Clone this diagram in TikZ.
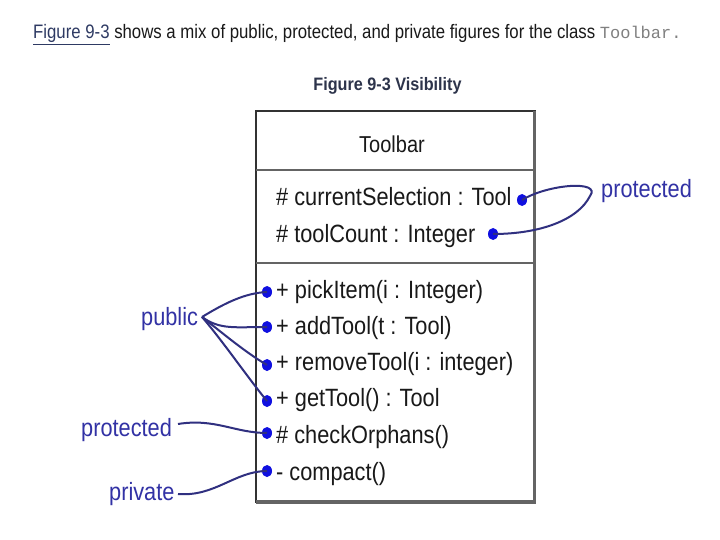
\documentclass[tikz,border=0pt]{standalone}
\usepackage{fontspec}
\setmainfont{Liberation Sans}[FakeStretch=0.87]
\newfontfamily\hdrfont{Liberation Sans}[FakeStretch=0.86]
\newfontfamily\capfont{Liberation Sans}[FakeStretch=0.9]
\setmonofont{Liberation Mono}
\usetikzlibrary{shapes.geometric}
\definecolor{linkcol}{RGB}{46,58,99}
\definecolor{monogray}{RGB}{128,128,128}
\definecolor{capcol}{RGB}{45,52,75}
\definecolor{lblblue}{RGB}{50,50,165}
\definecolor{dotblue}{RGB}{16,16,224}
\definecolor{connblue}{RGB}{48,48,128}
\definecolor{boxline}{RGB}{50,50,50}
\definecolor{boxshade}{RGB}{100,100,100}
\tikzset{
  hdr/.style={anchor=base west, inner sep=0pt, font=\hdrfont\fontsize{19.5}{19.5}\selectfont, text=black!90},
  member/.style={anchor=base west, inner sep=0pt, font=\fontsize{25}{25}\selectfont, text=black!90},
  lbl/.style={anchor=base west, inner sep=0pt, text=lblblue, font=\fontsize{25}{25}\selectfont},
  vdot/.style={ellipse, fill=dotblue, inner sep=0pt, minimum width=10pt, minimum height=12pt},
  conn/.style={draw=connblue, line width=2pt},
  boxln/.style={draw=boxline, line width=1.2pt},
  sepln/.style={draw=boxshade, line width=2.2pt},
  shadeln/.style={draw=boxshade, line width=3pt}
}
\begin{document}
\begin{tikzpicture}[x=1pt,y=-1pt]
\useasboundingbox (0,0) rectangle (720,540);
\fill[white] (0,0) rectangle (720,540);
% header
\node[hdr] (hdr) at (33,39) {\textcolor{linkcol}{\underline{Figure 9-3}} shows a mix of public, protected, and private figures for the class {\ttfamily\fontsize{17}{17}\selectfont\color{monogray}Toolbar.}};
\node[anchor=base, inner sep=0pt, font=\capfont\bfseries\fontsize{18}{18}\selectfont, text=capcol] (cap) at (387.5,91) {Figure 9-3 Visibility};
% class box
\draw[boxln, fill=white] (256,111) rectangle (535,502);
\draw[boxln, line width=2pt] (256,111) -- (535,111);
\draw[shadeln] (534.5,111) -- (534.5,503.5);
\draw[shadeln, line width=3.5pt] (256,502) -- (536,502);
\draw[sepln] (256,170) -- (535,170);
\draw[sepln] (256,263) -- (535,263);
\node[anchor=base, inner sep=0pt, font=\fontsize{23}{23}\selectfont, text=black!90] (cname) at (392,153) {Toolbar};
\node[member] (a1) at (276,206) {\# currentSelection : Tool};
\node[member] (a2) at (276,242) {\# toolCount : Integer};
\node[member] (o1) at (276,298) {+ pickItem(i : Integer)};
\node[member] (o2) at (276,334) {+ addTool(t : Tool)};
\node[member] (o3) at (276,370) {+ removeTool(i : integer)};
\node[member] (o4) at (276,406) {+ getTool() : Tool};
\node[member] (o5) at (276,443) {\# checkOrphans()};
\node[member] (o6) at (276,480) {- compact()};
% dots
\node[vdot] (d1) at (522,200) {};
\node[vdot] (d2) at (493,234) {};
\node[vdot] (p1) at (267,292) {};
\node[vdot] (p2) at (267,327) {};
\node[vdot] (p3) at (267,365) {};
\node[vdot] (p4) at (267,401) {};
\node[vdot] (p5) at (267,433) {};
\node[vdot] (p6) at (267,471) {};
% labels
\node[lbl] (prot1) at (601,198) {protected};
\node[lbl] (pub) at (141,325) {public};
\node[lbl] (prot2) at (81,436) {protected};
\node[lbl] (priv) at (109,500) {private};
\coordinate (pubtip) at (202,317);
\coordinate (prot2tip) at (178,424);
\coordinate (privtip) at (178,494);
% connectors
\draw[conn] (d1.center) .. controls (548,184) and (602,180) .. (590,196) .. controls (578,220) and (540,234) .. (d2.center);
\draw[conn] (pubtip) .. controls (225,303) and (245,293) .. (p1.center);
\draw[conn] (pubtip) .. controls (220,330) and (235,327) .. (p2.center);
\draw[conn] (pubtip) .. controls (225,335) and (245,352) .. (p3.center);
\draw[conn] (pubtip) .. controls (222,340) and (248,378) .. (p4.center);
\draw[conn] (prot2tip) .. controls (215,418) and (235,433) .. (p5.center);
\draw[conn] (privtip) .. controls (215,497) and (235,471) .. (p6.center);
\end{tikzpicture}
\end{document}
